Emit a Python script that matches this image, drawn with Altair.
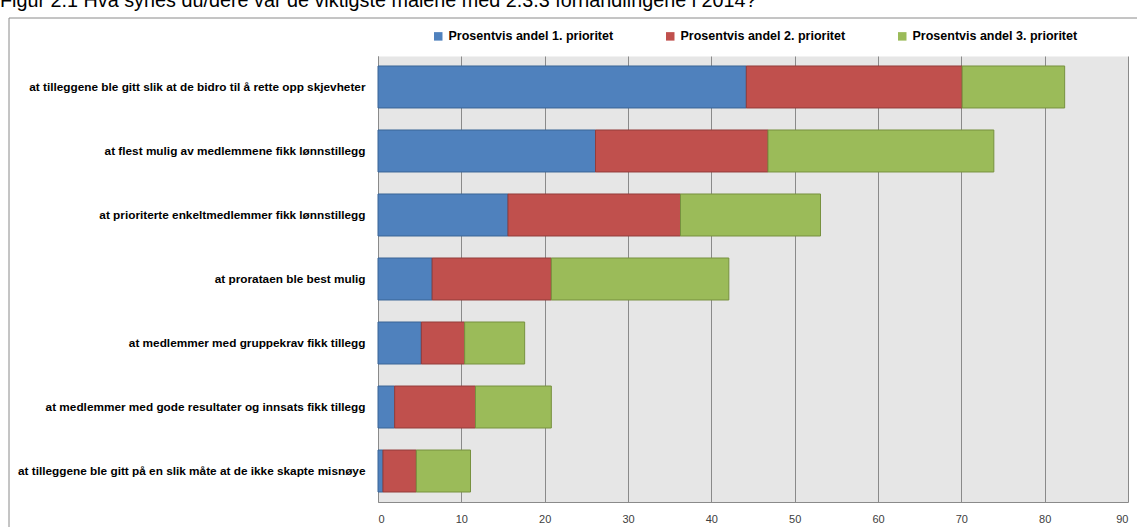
import altair as alt
import pandas as pd

categories = [
    "at tilleggene ble gitt slik at de bidro til å rette opp skjevheter",
    "at flest mulig av medlemmene fikk lønnstillegg",
    "at prioriterte enkeltmedlemmer fikk lønnstillegg",
    "at prorataen ble best mulig",
    "at medlemmer med gruppekrav fikk tillegg",
    "at medlemmer med gode resultater og innsats fikk tillegg",
    "at tilleggene ble gitt på en slik måte at de ikke skapte misnøye",
]
p1 = [44.2, 26.1, 15.6, 6.5, 5.2, 2.0, 0.6]
p2 = [25.9, 20.7, 20.7, 14.3, 5.2, 9.7, 4.0]
p3 = [12.3, 27.1, 16.8, 21.3, 7.2, 9.1, 6.5]
series = [
    "Prosentvis andel 1. prioritet",
    "Prosentvis andel 2. prioritet",
    "Prosentvis andel 3. prioritet",
]
fill_colors = ["#4F81BD", "#C0504D", "#9BBB59"]
stroke_colors = ["#3A6596", "#933C3A", "#77913F"]
x_ticks = [0, 10, 20, 30, 40, 50, 60, 70, 80, 90]
title_text = "Figur 2.1 Hva synes du/dere var de viktigste målene med 2.3.3 forhandlingene i 2014?"

rows = []
for s_i, (name, vals) in enumerate(zip(series, [p1, p2, p3])):
    for c, v in zip(categories, vals):
        rows.append({"kategori": c, "serie": name, "verdi": v, "rekkefolge": s_i})
df = pd.DataFrame(rows)

FONT = "Liberation Sans"

bars = alt.Chart(df).mark_bar(strokeWidth=1).encode(
    y=alt.Y(
        "kategori:N",
        sort=categories,
        title=None,
        scale=alt.Scale(paddingInner=0.344, paddingOuter=0.156),
        axis=alt.Axis(
            labelFont=FONT, labelFontWeight="bold", labelFontSize=11.8,
            labelColor="#000000", labelPadding=13, labelLimit=420,
            ticks=False, domainColor="#8A8A8A", grid=False,
        ),
    ),
    x=alt.X(
        "verdi:Q",
        stack="zero",
        title=None,
        scale=alt.Scale(domain=[0, 90], nice=False),
        axis=alt.Axis(
            values=x_ticks, labelFont=FONT, labelFontSize=11,
            labelColor="#404040", labelPadding=11, ticks=False,
            domainColor="#8A8A8A", grid=True, gridColor="#8A8A8A",
            gridWidth=1,
        ),
    ),
    color=alt.Color(
        "serie:N",
        scale=alt.Scale(domain=series, range=fill_colors),
        legend=alt.Legend(
            orient="none", legendX=54, legendY=-26, direction="horizontal",
            title=None, symbolType="square", symbolSize=72,
            symbolStrokeWidth=0, labelFont=FONT, labelFontWeight="bold",
            labelFontSize=12.5, labelColor="#000000", columnPadding=50,
            padding=0, labelOffset=4, labelLimit=300,
        ),
    ),
    stroke=alt.Stroke(
        "serie:N",
        scale=alt.Scale(domain=series, range=stroke_colors),
        legend=None,
    ),
    order=alt.Order("rekkefolge:Q"),
)

frame = alt.Chart(pd.DataFrame({"a": [0]})).mark_rect(
    fillOpacity=0, stroke="#8A8A8A", strokeWidth=1
).encode(
    x=alt.value(-369), x2=alt.value(790), y=alt.value(-38), y2=alt.value(500)
)

title = alt.Chart(pd.DataFrame({"t": [title_text]})).mark_text(
    align="left", baseline="alphabetic", font=FONT, fontSize=19.8, color="#000000"
).encode(
    text="t:N", x=alt.value(-378), y=alt.value(-49)
)

chart = alt.layer(frame, bars, title).properties(
    width=750,
    height=446,
    padding={"left": 378, "top": 56, "right": 9, "bottom": 25},
    autosize=alt.AutoSizeParams(type="none"),
    background="#FFFFFF",
).configure_view(fill="#E6E6E6", stroke="transparent")

chart.save("out.html", embed_options={"renderer": "svg", "actions": False})
